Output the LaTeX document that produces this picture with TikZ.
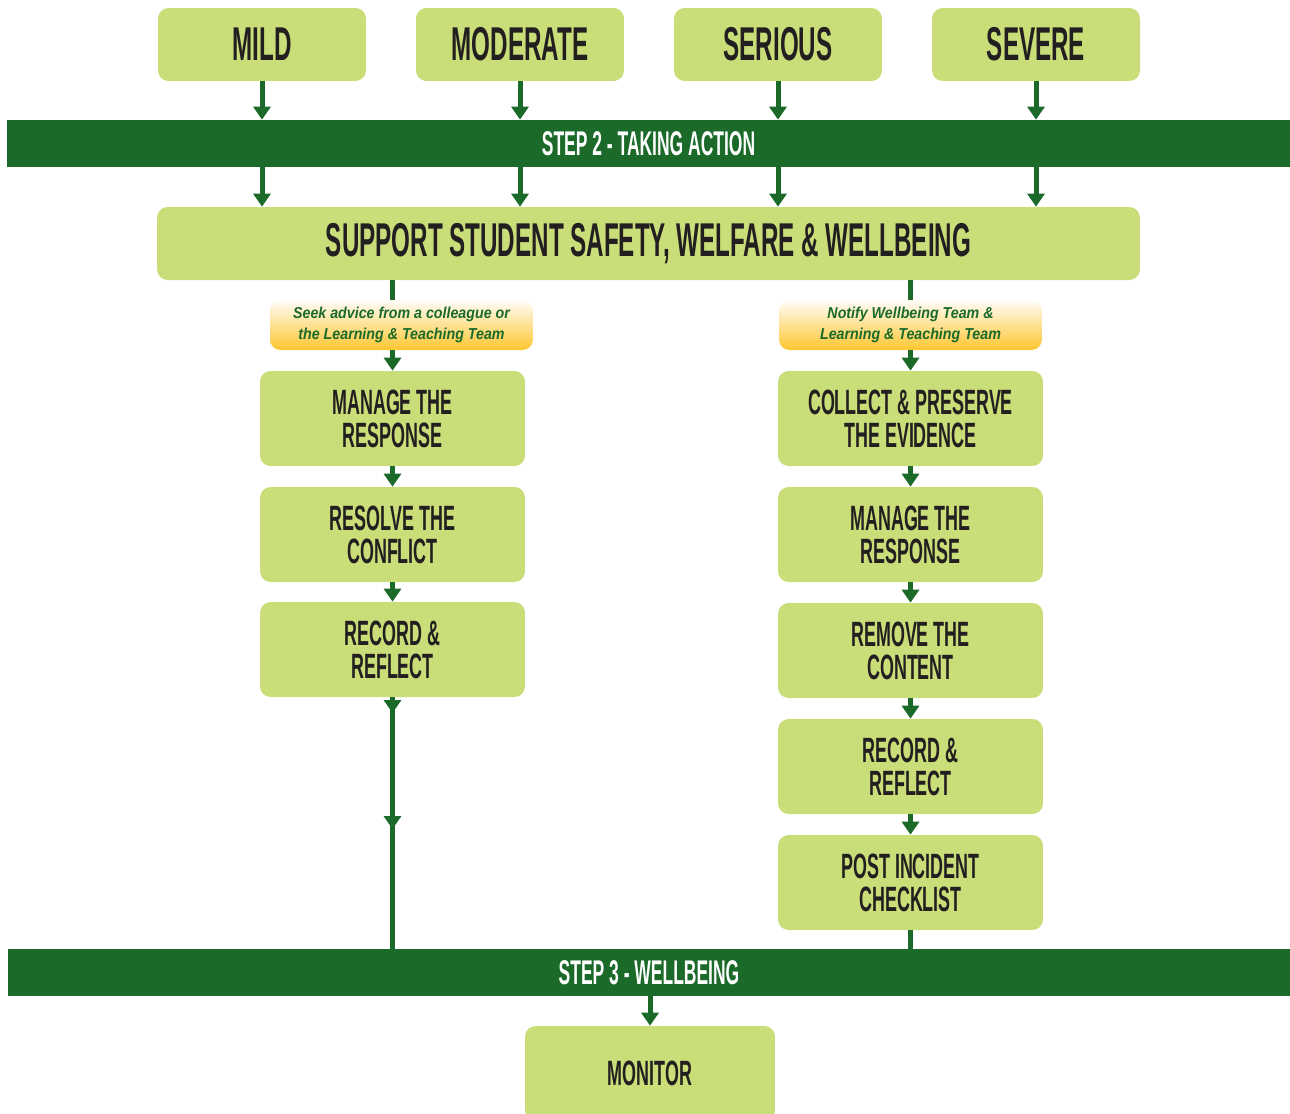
\documentclass[tikz,border=0pt]{standalone}
\usepackage{fontspec}
\usepackage{tikz}
\usetikzlibrary{arrows.meta,positioning,shadings}
\usepackage{xcolor}

\setmainfont{Liberation Sans}
\newfontfamily\headfont[FakeStretch=0.51]{Liberation Sans}
\newfontfamily\notefont[FakeStretch=0.9]{Liberation Sans}

\definecolor{leaf}{HTML}{C9DD78}
\definecolor{forest}{HTML}{1B6A2A}
\definecolor{ink}{HTML}{231F20}
\definecolor{amber}{HTML}{FDC630}

\begin{document}
\begin{tikzpicture}[
      x=0.02cm, y=-0.02cm,
      sev/.style={fill=leaf,rounded corners=6pt,minimum width=4.16cm,
                  minimum height=1.46cm,text=ink,inner sep=0pt,
                  font=\headfont\bfseries\fontsize{27}{30}\selectfont},
      act/.style={fill=leaf,rounded corners=6pt,minimum width=5.3cm,
                  minimum height=1.9cm,text=ink,inner sep=0pt,align=center,
                  font=\headfont\bfseries\fontsize{20}{18.7}\selectfont},
      note/.style={rounded corners=6pt,top color=amber!4,bottom color=amber,
                  minimum width=5.26cm,minimum height=1cm,text=forest,
                  inner sep=0pt,align=center,
                  font=\notefont\bfseries\itshape\fontsize{9}{12}\selectfont},
      band/.style={fill=forest,minimum height=0.94cm,text=white,inner sep=0pt,
                  font=\headfont\bfseries\fontsize{19.5}{22}\selectfont},
      arr/.style={-{Triangle[width=0.34cm,length=0.26cm]},line width=0.1cm,forest},
      lnk/.style={line width=0.1cm,forest},
    ]
    \useasboundingbox (0,0) rectangle (1290,1113);

    % ── Severity levels ───────────────────────────────────────────────────
    \node[sev] (mild)     at (262,44.5)  {MILD};
    \node[sev] (moderate) at (520,44.5)  {MODERATE};
    \node[sev] (serious)  at (778,44.5)  {SERIOUS};
    \node[sev] (severe)   at (1036,44.5) {SEVERE};

    % ── Step 2 banner ─────────────────────────────────────────────────────
    \node[band,minimum width=25.66cm] (step2) at (648.5,143.5) {STEP 2 - TAKING ACTION};

    % ── Shared first action ───────────────────────────────────────────────
    \node[sev,minimum width=19.66cm] (support) at (648.5,243.5)
          {SUPPORT STUDENT SAFETY, WELFARE \& WELLBEING};

    \foreach \lvl in {mild,moderate,serious,severe} {
      \draw[arr] (\lvl.south) -- (\lvl |- step2.north);
      \draw[arr] (\lvl |- step2.south) -- (\lvl |- support.north);
    }

    % ── Mild / moderate path ──────────────────────────────────────────────
    \node[note] (seek) at (401.5,325)
          {Seek advice from a colleague or\\the Learning \& Teaching Team};
    \node[act] (manL) at (392.5,418.5) {MANAGE THE\\RESPONSE};
    \node[act] (resL) at (392.5,534.5) {RESOLVE THE\\CONFLICT};
    \node[act] (recL) at (392.5,649.5) {RECORD \&\\REFLECT};

    \draw[lnk] (manL |- support.south) -- (manL |- seek.north);
    \draw[arr] (manL |- seek.south) -- (manL.north);
    \draw[arr] (manL) -- (resL);
    \draw[arr] (resL) -- (recL);

    % ── Serious / severe path ─────────────────────────────────────────────
    \node[note] (notify) at (910.5,325)
          {Notify Wellbeing Team \&\\Learning \& Teaching Team};
    \node[act] (colR) at (910.5,418.5) {COLLECT \& PRESERVE\\THE EVIDENCE};
    \node[act] (manR) at (910.5,534.5) {MANAGE THE\\RESPONSE};
    \node[act] (remR) at (910.5,650.5) {REMOVE THE\\CONTENT};
    \node[act] (recR) at (910.5,766.5) {RECORD \&\\REFLECT};
    \node[act] (post) at (910.5,882.5) {POST INCIDENT\\CHECKLIST};

    \draw[lnk] (colR |- support.south) -- (colR |- notify.north);
    \draw[arr] (colR |- notify.south) -- (colR.north);
    \draw[arr] (colR) -- (manR);
    \draw[arr] (manR) -- (remR);
    \draw[arr] (remR) -- (recR);
    \draw[arr] (recR) -- (post);

    % ── Step 3 banner ─────────────────────────────────────────────────────
    \node[band,minimum width=25.64cm] (step3) at (649,972.5) {STEP 3 - WELLBEING};

    \coordinate (tipA) at (392.5,713);
    \coordinate (tipB) at (392.5,829);
    \draw[lnk] (recL.south) -- (recL |- step3.north);
    \draw[arr] (recL.south) -- (tipA);
    \draw[arr] (recL.south) -- (tipB);
    \draw[lnk] (post.south) -- (post |- step3.north);

    % ── Monitor ───────────────────────────────────────────────────────────
    \node[sev,minimum width=5cm,minimum height=1.9cm,
          font=\headfont\bfseries\fontsize{20}{22}\selectfont] (monitor) at (650,1073.5) {MONITOR};
    \draw[arr] (monitor |- step3.south) -- (monitor.north);

  \end{tikzpicture}
\end{document}
